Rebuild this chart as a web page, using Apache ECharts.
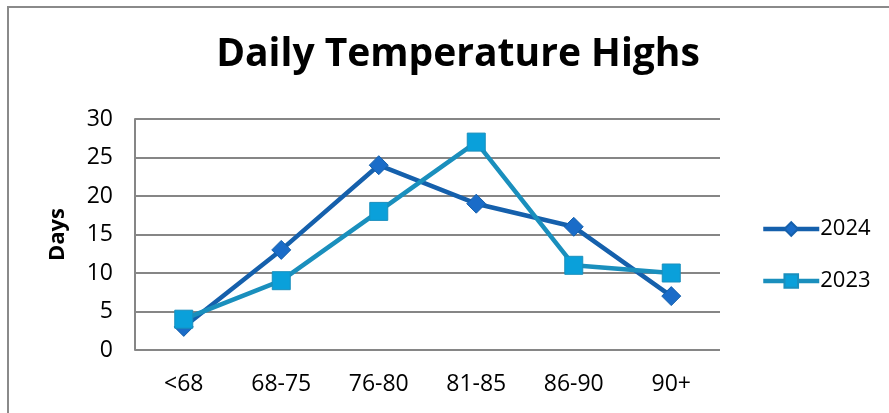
<!DOCTYPE html>
<html><head><meta charset="utf-8">
<script src="https://cdn.jsdelivr.net/npm/echarts@6/dist/echarts.min.js"></script>
<style>html,body{margin:0;padding:0;background:#fff}#c{width:889px;height:413px}</style>
</head><body><div id="c"></div>
<script>
const categories = ['<68','68-75','76-80','81-85','86-90','90+'];
const s2024 = [3,13,24,19,16,7];
const s2023 = [4,9,18,27,11,10];
const yTicks = {min:0,max:30,interval:5};
const font = '"Open Sans", "Noto Sans", sans-serif';
const chart = echarts.init(document.getElementById('c'));
chart.setOption({
  animation:false,
  backgroundColor:'#fff',
  graphic:[{type:'rect',shape:{x:8,y:7,width:900,height:430},style:{fill:'none',stroke:'#8a8a8a',lineWidth:2},z:-1}],
  title:{text:'Daily Temperature Highs',top:30,left:453,textAlign:'center',textStyle:{fontFamily:font,fontWeight:'bold',fontSize:39,color:'#000'}},
  grid:{left:135,right:169,top:119,bottom:63},
  legend:{orient:'vertical',left:756,top:213,itemGap:30,itemWidth:56,itemHeight:17,
    textStyle:{fontFamily:font,fontSize:22,color:'#000',padding:[0,0,0,-4]},
    lineStyle:{width:4.5},data:['2024','2023']},
  xAxis:{type:'category',data:categories,boundaryGap:true,
    axisLine:{show:false},axisTick:{show:false},
    axisLabel:{fontFamily:font,fontSize:23,color:'#000',margin:23}},
  yAxis:{type:'value',min:yTicks.min,max:yTicks.max,interval:yTicks.interval,
    name:'Days',nameLocation:'middle',nameGap:66,nameTextStyle:{fontFamily:font,fontWeight:'bold',fontSize:22,color:'#000'},
    axisLine:{show:true,lineStyle:{color:'#868686',width:2}},axisTick:{show:false},
    axisLabel:{fontFamily:font,fontSize:23,color:'#000',margin:22}},
  series:[
    {name:'2024',type:'line',data:s2024,symbol:'diamond',symbolSize:19,
     lineStyle:{color:'#1560ac',width:4.5},itemStyle:{color:'#1a6cc8',borderColor:'#1560ac',borderWidth:1},z:3},
    {name:'2023',type:'line',data:s2023,symbol:'rect',symbolSize:18,
     lineStyle:{color:'#1a8fbd',width:4.5},itemStyle:{color:'#0aa0da',borderColor:'#1a8fbd',borderWidth:1},z:4}
  ]
});
chart.setOption({yAxis:{splitLine:{lineStyle:{color:'#868686',width:2}}}});
</script></body></html>
